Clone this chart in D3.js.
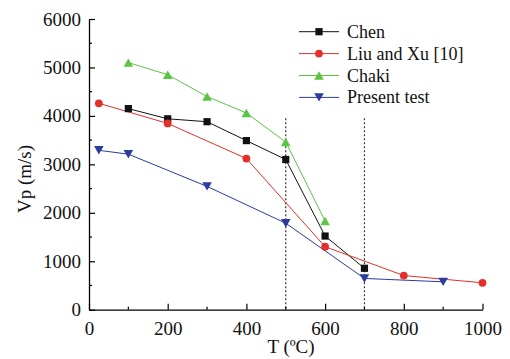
<!DOCTYPE html>
<html>
<head>
<meta charset="utf-8">
<script src="https://cdn.jsdelivr.net/npm/d3@7"></script>
<style>
  body { margin: 0; background: #fff; }
  svg { display: block; }
  svg text { font-family: "Liberation Serif", "Times New Roman", serif; }
</style>
</head>
<body>
<div id="chart"></div>
<script>
const chenT = [100, 200, 300, 400, 500, 600, 700];
const chenVp = [4150, 3940, 3880, 3490, 3100, 1520, 855];
const liuT = [25, 200, 400, 600, 800, 1000];
const liuVp = [4260, 3845, 3120, 1300, 705, 555];
const chakiT = [100, 200, 300, 400, 500, 600];
const chakiVp = [5100, 4850, 4400, 4060, 3460, 1830];
const presentT = [25, 100, 300, 500, 700, 900];
const presentVp = [3290, 3210, 2545, 1785, 645, 575];
const xTicks = [0, 200, 400, 600, 800, 1000];
const yTicks = [0, 1000, 2000, 3000, 4000, 5000, 6000];
const dashedT = [500, 700];

const series = [
    { name: "Chen", t: chenT, v: chenVp, color: "#111111", shape: "square" },
    { name: "Liu and Xu [10]", t: liuT, v: liuVp, color: "#e3302a", shape: "circle" },
    { name: "Chaki", t: chakiT, v: chakiVp, color: "#5cc545", shape: "up" },
    { name: "Present test", t: presentT, v: presentVp, color: "#2a3d9c", shape: "down" }
];

const width = 510, height = 359;
const margin = ({ top: 19, right: 27.5, bottom: 49.3, left: 89 });
const font = "Liberation Serif, Times New Roman, serif";

const xScale = d3.scaleLinear()
    .domain([0, 1000])
    .range([margin.left, width - margin.right]);

const yScale = d3.scaleLinear()
    .domain([0, 6000])
    .range([height - margin.bottom, margin.top]);

const svg = d3.select("#chart")
    .append("svg")
    .attr("width", width)
    .attr("height", height);

// dashed reference lines
svg.append("g")
    .selectAll("line")
    .data(dashedT)
    .join("line")
    .attr("x1", d => xScale(d))
    .attr("x2", d => xScale(d))
    .attr("y1", yScale(3950))
    .attr("y2", yScale(0))
    .attr("stroke", "#333")
    .attr("stroke-width", 1.2)
    .attr("stroke-dasharray", "2,2");

// axes
const xAxis = g => g
    .attr("transform", `translate(0,${height - margin.bottom})`)
    .call(d3.axisBottom(xScale)
        .tickValues(xTicks)
        .tickFormat(d3.format("d"))
        .tickSizeInner(-6)
        .tickSizeOuter(0)
        .tickPadding(12))
    .attr("font-family", font)
    .attr("font-size", 19)
    .call(g => g.select(".domain").attr("stroke-width", 1.3))
    .call(g => g.selectAll(".tick line").attr("stroke-width", 1.2))
    .call(g => g.selectAll("text").attr("fill", "#111"));

const yAxis = g => g
    .attr("transform", `translate(${margin.left},0)`)
    .call(d3.axisLeft(yScale)
        .tickValues(yTicks)
        .tickFormat(d3.format("d"))
        .tickSizeInner(-6)
        .tickSizeOuter(0)
        .tickPadding(8))
    .attr("font-family", font)
    .attr("font-size", 19)
    .call(g => g.select(".domain").attr("stroke-width", 1.3))
    .call(g => g.selectAll(".tick line").attr("stroke-width", 1.2))
    .call(g => g.selectAll("text").attr("fill", "#111"));

svg.append("g").call(xAxis);
svg.append("g").call(yAxis);

// minor ticks
svg.append("g")
    .selectAll("line")
    .data(d3.range(100, 1000, 200))
    .join("line")
    .attr("x1", d => xScale(d))
    .attr("x2", d => xScale(d))
    .attr("y1", yScale(0))
    .attr("y2", yScale(0) - 3)
    .attr("stroke", "#000")
    .attr("stroke-width", 1.2);

svg.append("g")
    .selectAll("line")
    .data(d3.range(500, 6000, 1000))
    .join("line")
    .attr("x1", xScale(0))
    .attr("x2", xScale(0) + 3)
    .attr("y1", d => yScale(d))
    .attr("y2", d => yScale(d))
    .attr("stroke", "#000")
    .attr("stroke-width", 1.2);

// axis titles
svg.append("text")
    .attr("x", 291)
    .attr("y", height - 6)
    .attr("text-anchor", "middle")
    .attr("font-size", 19)
    .attr("fill", "#111")
    .text("T (ºC)");

svg.append("text")
    .attr("transform", `translate(31,${179}) rotate(-90)`)
    .attr("text-anchor", "middle")
    .attr("font-size", 19)
    .attr("fill", "#111")
    .text("Vp (m/s)");

// markers
const drawMarker = (g, shape, color) => {
    if (shape === "square") {
        g.append("rect").attr("x", -3.6).attr("y", -3.6).attr("width", 7.2).attr("height", 7.2).attr("fill", color);
    } else if (shape === "circle") {
        g.append("circle").attr("r", 3.9).attr("fill", color);
    } else if (shape === "up") {
        g.append("path").attr("d", "M0,-4.2L4.8,4.2L-4.8,4.2Z").attr("fill", color);
    } else {
        g.append("path").attr("d", "M0,4.2L4.8,-4.2L-4.8,-4.2Z").attr("fill", color);
    }
};

const line = d3.line()
    .x(d => xScale(d[0]))
    .y(d => yScale(d[1]));

series.forEach(s => {
    const pts = s.t.map((t, i) => [t, s.v[i]]);
    svg.append("path")
        .datum(pts)
        .attr("d", line)
        .attr("fill", "none")
        .attr("stroke", s.color)
        .attr("stroke-width", 1);
});

series.forEach(s => {
    const pts = s.t.map((t, i) => [t, s.v[i]]);
    svg.append("g")
        .selectAll("g")
        .data(pts)
        .join("g")
        .attr("transform", d => `translate(${xScale(d[0])},${yScale(d[1])})`)
        .each(function () { drawMarker(d3.select(this), s.shape, s.color); });
});

// legend
const legend = svg.append("g")
    .attr("transform", "translate(299,31.7)");

series.forEach((s, i) => {
    const row = legend.append("g").attr("transform", `translate(0,${i * 21.9})`);
    row.append("line")
        .attr("x1", 0).attr("x2", 40)
        .attr("stroke", s.color)
        .attr("stroke-width", 1);
    const m = row.append("g").attr("transform", "translate(20,0)");
    drawMarker(m, s.shape, s.color);
    row.append("text")
        .attr("x", 48)
        .attr("y", 6)
        .attr("font-size", 18)
        .attr("fill", "#111")
        .text(s.name);
});
</script>
</body>
</html>
